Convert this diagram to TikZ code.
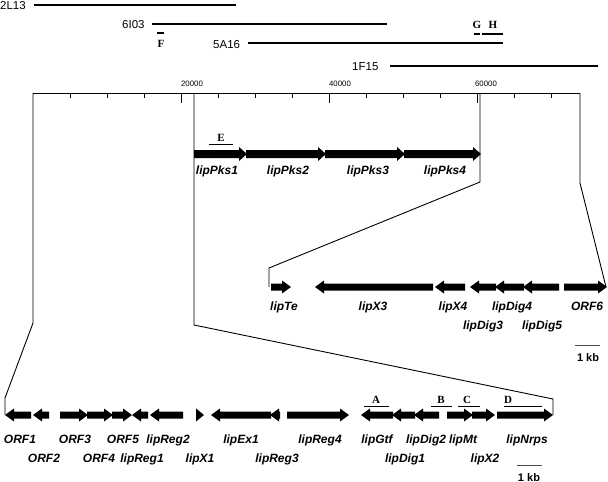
\documentclass[tikz,border=0pt]{standalone}
\usepackage{fontspec}
\setmainfont{Liberation Sans}
\newfontfamily\tmsfont{Liberation Serif}
\newcommand\geneR[3]{% right-pointing gene: tail #1, tip #2, row #3
  \pgfmathsetmacro\hl{min(9,#2-#1)}%
  \fill (#1,#3-3.5) -- (#2-\hl,#3-3.5) -- (#2-\hl,#3-6.5) -- (#2,#3) -- (#2-\hl,#3+6.5) -- (#2-\hl,#3+3.5) -- (#1,#3+3.5) -- cycle;}
\newcommand\geneL[3]{% left-pointing gene: tip #1, tail #2, row #3
  \pgfmathsetmacro\hl{min(9,#2-#1)}%
  \fill (#2,#3-3.5) -- (#1+\hl,#3-3.5) -- (#1+\hl,#3-6.5) -- (#1,#3) -- (#1+\hl,#3+6.5) -- (#1+\hl,#3+3.5) -- (#2,#3+3.5) -- cycle;}
\newcommand\pksR[3]{%
  \fill (#1,#3-4) -- (#2-8,#3-4) -- (#2-8,#3-7) -- (#2,#3) -- (#2-8,#3+7) -- (#2-8,#3+4) -- (#1,#3+4) -- cycle;}
\tikzset{
  gl/.style={font=\fontsize{12}{12}\selectfont\bfseries\itshape, inner sep=0pt, anchor=base},
  cl/.style={font=\fontsize{11.5}{12}\selectfont, inner sep=0pt, anchor=base west},
  rl/.style={font=\fontsize{7.8}{8}\selectfont, inner sep=0pt, anchor=base},
  lt/.style={font=\fontsize{11}{11}\selectfont\tmsfont\bfseries, inner sep=0pt, anchor=base},
  kb/.style={font=\fontsize{11}{11}\selectfont\bfseries, inner sep=0pt, anchor=base},
  clone/.style={line width=1.2pt},
  zoomline/.style={line width=0.9pt},
  probe/.style={line width=0.9pt},
  sbar/.style={line width=0.8pt, black!70}
}
\begin{document}
\begin{tikzpicture}[x=1pt,y=-1pt]
\useasboundingbox (0,0) rectangle (608,482);
% ---- clones ----
\node[cl] (c2L13) at (0,9) {2L13};
\draw[clone] (34,5) -- (236,5);
\node[cl] (c6I03) at (122,28) {6I03};
\draw[clone] (152,24) -- (387,24);
\node[cl] (c5A16) at (213,48) {5A16};
\draw[clone] (248,43) -- (503,43);
\node[cl] (c1F15) at (352,70) {1F15};
\draw[clone] (390,66) -- (598,66);
% probes F G H
\draw[line width=1.6pt] (157,33) -- (164,33);
\node[lt] (pF) at (161,47) {F};
\draw[line width=1.6pt] (474,34) -- (480,34);
\node[lt] (pG) at (477,28) {G};
\draw[line width=1.6pt] (482,34) -- (503,34);
\node[lt] (pH) at (493,28) {H};
% ---- ruler ----
\draw[zoomline] (33,93) -- (580,93);
\foreach \k in {1,...,14}{
  \pgfmathsetmacro\tx{33+37*\k}
  \ifnum\k=4 \draw[line width=0.7pt] (\tx,93) -- (\tx,103);
  \else\ifnum\k=8 \draw[line width=0.7pt] (\tx,93) -- (\tx,103);
  \else\ifnum\k=12 \draw[line width=0.7pt] (\tx,93) -- (\tx,103);
  \else \draw[line width=0.7pt] (\tx,93) -- (\tx,98);
  \fi\fi\fi
}
\node[rl] (r20) at (192,86) {20000};
\node[rl] (r40) at (340,86) {40000};
\node[rl] (r60) at (486,86) {60000};
% ---- zoom connectors ----
\coordinate (zA0) at (33,93);
\coordinate (zA1) at (33,323);
\coordinate (zA2) at (5,398);
\coordinate (zA3) at (5,415);
\draw[zoomline] (zA0) -- (zA1) -- (zA2) -- (zA3);
\coordinate (zB0) at (194,93);
\coordinate (zB1) at (194,325);
\coordinate (zB2) at (553,399);
\coordinate (zB3) at (553,415);
\draw[zoomline] (zB0) -- (zB1) -- (zB2) -- (zB3);
\coordinate (zC0) at (480,93);
\coordinate (zC1) at (480,182);
\coordinate (zC2) at (269,268);
\coordinate (zC3) at (269,287);
\draw[zoomline] (zC0) -- (zC1) -- (zC2) -- (zC3);
\coordinate (zD0) at (580,93);
\coordinate (zD1) at (580,183);
\coordinate (zD2) at (604,279);
\coordinate (zD3) at (606,287);
\draw[zoomline] (zD0) -- (zD1) -- (zD2) -- (zD3);
% ---- PKS row ----
\pksR{194}{247}{154}
\pksR{246}{326}{154}
\pksR{325}{405}{154}
\pksR{404}{481}{154}
\draw[probe] (209,144) -- (233,144);
\node[lt] (pE) at (221,141) {E};
\node[gl] (gPks1) at (217,174) {lipPks1};
\node[gl] (gPks2) at (288,174) {lipPks2};
\node[gl] (gPks3) at (368,174) {lipPks3};
\node[gl] (gPks4) at (445,174) {lipPks4};
% ---- middle row ----
\geneR{271}{291}{287}
\geneL{315}{433}{287}
\geneL{435}{465}{287}
\geneL{470}{496}{287}
\geneL{495}{524}{287}
\geneL{523}{559}{287}
\geneR{564}{607}{287}
\node[gl] (gTe) at (284,310) {lipTe};
\node[gl] (gX3) at (373,310) {lipX3};
\node[gl] (gX4) at (453,310) {lipX4};
\node[gl] (gDig4) at (512,310) {lipDig4};
\node[gl] (gORF6) at (587,310) {ORF6};
\node[gl] (gDig3) at (483,329) {lipDig3};
\node[gl] (gDig5) at (542,329) {lipDig5};
\draw[sbar] (575,345) -- (600,345);
\node[kb] (kb1) at (588,361) {1 kb};
% ---- bottom row ----
\geneL{5}{31}{415}
\geneL{33}{49}{415}
\geneR{60}{88}{415}
\geneR{87}{113}{415}
\geneR{112}{132}{415}
\geneL{132}{148}{415}
\geneL{150}{183}{415}
\geneR{196}{204}{415}
\geneL{211}{271}{415}
\geneL{270}{280}{415}
\geneR{287}{349}{415}
\geneL{361}{393}{415}
\geneL{392}{415}{415}
\geneL{414}{439}{415}
\geneR{447}{473}{415}
\geneR{472}{495}{415}
\geneR{497}{553}{415}
\node[gl] (gORF1) at (20,443) {ORF1};
\node[gl] (gORF2) at (44,462) {ORF2};
\node[gl] (gORF3) at (75,443) {ORF3};
\node[gl] (gORF4) at (99,462) {ORF4};
\node[gl] (gORF5) at (123,443) {ORF5};
\node[gl] (gReg1) at (142,462) {lipReg1};
\node[gl] (gReg2) at (168,443) {lipReg2};
\node[gl] (gX1) at (200,462) {lipX1};
\node[gl] (gEx1) at (241,443) {lipEx1};
\node[gl] (gReg3) at (277,462) {lipReg3};
\node[gl] (gReg4) at (320,443) {lipReg4};
\node[gl] (gGtf) at (377,443) {lipGtf};
\node[gl] (gDig1) at (405,462) {lipDig1};
\node[gl] (gDig2) at (426,443) {lipDig2};
\node[gl] (gMt) at (463,443) {lipMt};
\node[gl] (gX2) at (485,462) {lipX2};
\node[gl] (gNrps) at (527,443) {lipNrps};
% probes A-D
\draw[probe] (364,406) -- (389,406);
\node[lt] (pA) at (376,403) {A};
\draw[probe] (431,406) -- (452,406);
\node[lt] (pB) at (441,403) {B};
\draw[probe] (458,406) -- (480,406);
\node[lt] (pC) at (467,403) {C};
\draw[probe] (504,406) -- (542,406);
\node[lt] (pD) at (508,403) {D};
\draw[sbar] (517,465) -- (542,465);
\node[kb] (kb2) at (529,481) {1 kb};
\end{tikzpicture}
\end{document}
